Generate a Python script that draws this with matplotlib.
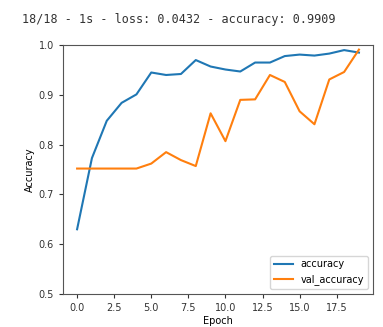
import matplotlib
matplotlib.use("Agg")
import matplotlib.pyplot as plt

epochs = list(range(20))
accuracy = [0.630, 0.773, 0.848, 0.884, 0.901, 0.945, 0.940, 0.942, 0.970, 0.957,
            0.951, 0.947, 0.965, 0.965, 0.978, 0.981, 0.979, 0.983, 0.990, 0.985]
val_accuracy = [0.752, 0.752, 0.752, 0.752, 0.752, 0.762, 0.785, 0.769, 0.757, 0.863,
                0.807, 0.890, 0.891, 0.940, 0.926, 0.867, 0.841, 0.931, 0.946, 0.991]
log_line = "18/18 - 1s - loss: 0.0432 - accuracy: 0.9909"

fig = plt.figure(figsize=(3.83, 3.27), dpi=100)
ax = fig.add_axes([0.1645, 0.101, 0.8095, 0.761])

ax.plot(epochs, accuracy, label="accuracy", color="#1f77b4", lw=1.5)
ax.plot(epochs, val_accuracy, label="val_accuracy", color="#ff7f0e", lw=1.5)
ax.set_ylim(0.5, 1.0)
ax.set_xlabel("Epoch", fontsize=7, labelpad=2)
ax.set_ylabel("Accuracy", fontsize=7, labelpad=3)
ax.tick_params(labelsize=7, colors="#333333", length=3)
ax.legend(loc="lower right", fontsize=7)
for s in ax.spines.values():
    s.set_color("#555555")

fig.text(0.057, 0.94, log_line, family="DejaVu Sans Mono", fontsize=8.5, color="#333333", va="center")

fig.savefig("out.png", dpi=100)
